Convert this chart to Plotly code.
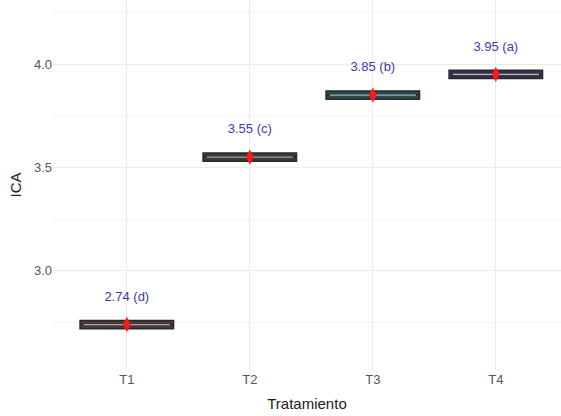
import plotly.graph_objects as go

categories = ["T1", "T2", "T3", "T4"]
means = [2.74, 3.55, 3.85, 3.95]
letters = ["d", "c", "b", "a"]
half_spread = [0.02, 0.02, 0.02, 0.02]
box_fill = ["#463c3b", "#383b35", "#2d464b", "#363148"]
median_col = ["#b9a3a3", "#a3ae9c", "#8fc0c6", "#c4b8dc"]

pos = list(range(len(categories)))
box_w = 0.76
font = "Liberation Sans Narrow, Liberation Sans, Arial"

fig = go.Figure()
for i, (c, m, s) in enumerate(zip(categories, means, half_spread)):
    fig.add_trace(go.Box(
        x=[pos[i]], q1=[m - s], median=[m], q3=[m + s],
        lowerfence=[m - s], upperfence=[m + s],
        width=box_w, fillcolor=box_fill[i],
        line=dict(color="#2a2a2a", width=1.5),
        showlegend=False, hoverinfo="skip"))
    fig.add_trace(go.Scatter(
        x=[pos[i] - box_w / 2 + 0.03, pos[i] + box_w / 2 - 0.03], y=[m, m],
        mode="lines", line=dict(color=median_col[i], width=1.2),
        showlegend=False, hoverinfo="skip"))

fig.add_trace(go.Scatter(
    x=pos, y=means, mode="markers",
    marker=dict(symbol="diamond-tall", color="#ff1a1a", size=11),
    showlegend=False, hoverinfo="skip"))

fig.add_trace(go.Scatter(
    x=pos, y=[m + 0.13 for m in means], mode="text",
    text=[f"{m:.2f} ({l})" for m, l in zip(means, letters)],
    textfont=dict(family=font, size=13, color="#3a3ab0"),
    showlegend=False, hoverinfo="skip"))

fig.update_layout(
    width=561, height=416,
    margin=dict(l=53, r=0, t=0, b=46),
    paper_bgcolor="white", plot_bgcolor="white",
    font=dict(family=font, color="#4d4d4d", size=12),
)
fig.update_xaxes(
    range=[-0.6, 3.53], tickvals=pos, ticktext=categories,
    showgrid=True, gridcolor="#ebebeb", gridwidth=1,
    zeroline=False, showline=False, ticks="",
    tickfont=dict(family=font, size=13, color="#555555"),
    title=dict(text="Tratamiento", font=dict(family=font, size=15, color="#222222"), standoff=12),
)
fig.update_yaxes(
    range=[2.52, 4.31], tickvals=[3.0, 3.5, 4.0], ticktext=["3.0", "3.5", "4.0"],
    showgrid=True, gridcolor="#ebebeb", gridwidth=1,
    minor=dict(tickvals=[2.75, 3.25, 3.75, 4.25], showgrid=True, gridcolor="#f4f4f4", gridwidth=1),
    zeroline=False, showline=False, ticks="",
    tickfont=dict(family=font, size=13, color="#555555"),
    title=dict(text="ICA", font=dict(family=font, size=15, color="#222222"), standoff=8),
)

fig.write_html("out.html")
